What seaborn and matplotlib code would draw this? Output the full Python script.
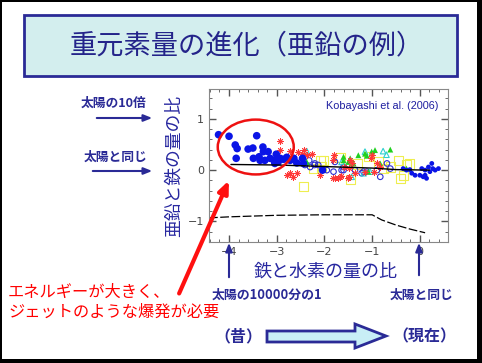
import matplotlib
matplotlib.use("Agg")
import matplotlib.pyplot as plt
from matplotlib.patches import Rectangle, Ellipse, Polygon
from matplotlib.ticker import MultipleLocator
import seaborn as sns

# --- data ([Fe/H], [Zn/Fe]) ---
big_blue_x = [-4.22, -4.00, -3.87, -3.83, -3.85, -3.60, -3.50, -3.42, -3.49, -3.37, -3.29, -3.28,
              -3.35, -3.25, -3.18, -3.14, -3.06, -3.01, -2.97, -2.93, -2.86, -2.79, -2.72, -2.64,
              -2.58, -2.46, -2.44, -3.04, -2.04]
big_blue_y = [0.69, 0.66, 0.49, 0.42, 0.23, 0.41, 0.43, 0.67, 0.23, 0.26, 0.45, 0.36,
              0.19, 0.19, 0.36, 0.23, 0.19, 0.31, 0.16, 0.23, 0.21, 0.25, 0.19, 0.23,
              0.14, 0.23, 0.13, 0.13, 0.00]

small_blue_x = [0.04, 0.11, 0.18, 0.25, 0.27, 0.32, 0.39, 0.11, 0.07, 0.14, 0.00, -0.10,
                -0.17, -0.21, -0.28, -0.35, 0.21]
small_blue_y = [0.03, 0.00, 0.06, 0.13, 0.03, 0.00, 0.03, -0.10, -0.13, -0.16, -0.10, -0.10,
                -0.06, 0.01, 0.00, 0.03, -0.03]

red_x = [-2.93, -2.93, -2.72, -2.79, -2.72, -2.65, -2.58, -2.55, -2.48, -2.43, -2.37, -2.27,
         -2.09, -1.83, -1.72, -1.66, -1.83, -1.60, -1.48, -1.48, -1.43, -1.03, -0.90, -1.36,
         -1.81, -1.78, -1.67, -1.50, -1.46, -1.01, -0.97, -1.15, -0.83]
red_y = [0.57, 0.39, 0.37, -0.10, -0.06, -0.13, -0.06, 0.36, 0.31, 0.39, 0.29, 0.31,
         -0.10, -0.16, -0.16, -0.12, 0.19, 0.06, 0.05, -0.13, 0.13, 0.23, 0.13, -0.06,
         0.29, -0.16, -0.13, -0.16, 0.19, 0.29, -0.03, -0.03, 0.06]

open_blue_x = [-2.41, -2.30, -2.20, -2.13, -1.95, -1.81, -1.78, -1.64, -1.60, -1.36, -1.22,
               -1.11, -0.90, -0.83, -0.69, -0.62, -2.32, -2.21, -1.18, -1.60]
open_blue_y = [0.10, 0.06, 0.13, 0.10, 0.00, -0.03, 0.16, 0.00, 0.06, 0.00, -0.06,
               -0.03, 0.00, -0.13, 0.13, 0.03, 0.19, 0.10, -0.03, 0.00]

cyan_x = [-2.37, -1.64, -1.15, -0.77, -0.70, -1.18, -1.43, -1.04]
cyan_y = [0.37, 0.16, 0.36, 0.37, 0.30, -0.06, -0.13, -0.03]

green_x = [-1.60, -1.29, -1.15, -1.01, -0.94, -1.39, -1.50, -1.08, -0.83, -1.60, -1.46,
           -0.62, -1.11, -0.28, -2.37]
green_y = [0.26, 0.29, 0.32, 0.36, 0.39, 0.13, 0.16, -0.03, 0.13, 0.19, 0.23,
           0.40, 0.28, 0.03, 0.16]

yellow_x = [-2.44, -2.23, -2.02, -1.67, -1.46, -0.87, -0.77, -0.45, -0.21, -0.41, -0.35,
            -2.09, -2.06, -0.28, -1.08, -0.62, -1.30]
yellow_y = [-0.32, 0.03, 0.19, 0.25, -0.19, 0.16, 0.03, 0.18, 0.12, -0.16, -0.10,
            0.19, 0.06, 0.10, 0.26, 0.06, 0.12]

model_x = [-3.96, -3.0, -2.0, -1.0, -0.5, 0.2]
model_y = [0.11, 0.10, 0.07, 0.04, 0.01, 0.00]

dash_x = [-4.42, -4.0, -3.0, -2.0, -1.0, -0.8, -0.5, -0.2, 0.11]
dash_y = [-0.93, -0.91, -0.88, -0.87, -0.87, -0.97, -1.07, -1.15, -1.22]

xticks = [-4, -3, -2, -1, 0]
yticks = [-1, 0, 1]

NAVY = "#2a2a96"
H = 363

sns.set_style("ticks")
plt.rcParams["font.family"] = ["Noto Sans CJK JP", "DejaVu Sans"]

fig = plt.figure(figsize=(4.82, 3.63), dpi=100)
fig.patch.set_facecolor("black")


def fy(y):
    return H - y


# white slide area and title box
fig.patches.append(Rectangle((2, fy(359)), 475, 357, transform=None,
                             facecolor="white", edgecolor="none", zorder=-2))
fig.patches.append(Rectangle((24, fy(76)), 433, 61, transform=None,
                             facecolor="#d3eeee", edgecolor=NAVY, lw=2, zorder=-1))
fig.text(247 / 482, 1 - 46 / H, "重元素量の進化（亜鉛の例）", ha="center", va="center",
         fontsize=19.6, color="#24248a")

ax = fig.add_axes([209 / 482, 1 - 242 / H, 239 / 482, 153 / H])
ax.set_zorder(3)
ax.set_facecolor("white")

sns.lineplot(x=model_x, y=model_y, ax=ax, color="black", lw=1.0, sort=False)
sns.lineplot(x=dash_x, y=dash_y, ax=ax, color="black", lw=0.9, sort=False,
             linestyle=(0, (7, 2)))

sns.scatterplot(x=yellow_x, y=yellow_y, ax=ax, marker="s", s=44, facecolor="none",
                edgecolor="#eeee50", linewidth=0.8)
sns.scatterplot(x=open_blue_x, y=open_blue_y, ax=ax, marker="o", s=16, facecolor="none",
                edgecolor="#3030d0", linewidth=0.8)
sns.scatterplot(x=cyan_x, y=cyan_y, ax=ax, marker="^", s=16, facecolor="none",
                edgecolor="#30d0d0", linewidth=0.8)
sns.scatterplot(x=green_x, y=green_y, ax=ax, marker="^", s=18, color="#20d020",
                edgecolor="none")
sns.scatterplot(x=red_x, y=red_y, ax=ax, marker=(8, 2, 0), s=18, color="#ff3838",
                linewidth=0.6)
sns.scatterplot(x=big_blue_x, y=big_blue_y, ax=ax, marker="o", s=30, color="#0a14e6",
                edgecolor="none")
sns.scatterplot(x=small_blue_x, y=small_blue_y, ax=ax, marker="o", s=12, color="#0a14e6",
                edgecolor="none")

ax.add_patch(Ellipse((-3.44, 0.45), 76 / 47.7, 55 / 51.5, facecolor="none",
                     edgecolor="#ee1111", lw=1.8, zorder=5))

ax.set_xlim(-4.42, 0.59)
ax.set_ylim(-1.40, 1.58)
ax.set_xticks(xticks)
ax.set_yticks(yticks)
ax.set_xticklabels(["\u2212" + str(-t) if t < 0 else str(t) for t in xticks])
ax.set_yticklabels(["\u2212" + str(-t) if t < 0 else str(t) for t in yticks])
ax.xaxis.set_minor_locator(MultipleLocator(0.2))
ax.yaxis.set_minor_locator(MultipleLocator(0.2))
ax.tick_params(which="both", direction="in", top=True, right=True, colors="#555555",
               labelsize=8, labelcolor="#444444")
ax.tick_params(which="major", length=5, width=1.0)
ax.tick_params(which="minor", length=2.5, width=0.6)
for lab in ax.get_xticklabels() + ax.get_yticklabels():
    lab.set_family("DejaVu Sans")
for sp in ax.spines.values():
    sp.set_color("#888888")
    sp.set_linewidth(0.8)
ax.set_xlabel("")
ax.set_ylabel("")
ax.text(0.96, 0.89, "Kobayashi et al. (2006)", transform=ax.transAxes, ha="right",
        va="center", fontsize=7.8, color="#1e1ea0", family="Liberation Sans")

# axis titles
fig.text(174 / 482, 1 - 166 / H, "亜鉛と鉄の量の比", rotation=90, ha="center", va="center",
         fontsize=12.8, color="#2828a0")
fig.text(326 / 482, 1 - 272 / H, "鉄と水素の量の比", ha="center", va="center",
         fontsize=13, color="#2828a0")

# side labels with arrows
fig.text(114 / 482, 1 - 103 / H, "太陽の10倍", ha="center", va="center", fontsize=9.2,
         fontweight="bold", color=NAVY)
fig.text(116 / 482, 1 - 157 / H, "太陽と同じ", ha="center", va="center", fontsize=9.2,
         fontweight="bold", color=NAVY)
fig.text(267 / 482, 1 - 295 / H, "太陽の10000分の1", ha="center", va="center",
         fontsize=9.3, fontweight="bold", color=NAVY)
fig.text(422 / 482, 1 - 295 / H, "太陽と同じ", ha="center", va="center", fontsize=9.2,
         fontweight="bold", color=NAVY)

arrow_kw = dict(arrowstyle="-|>,head_length=0.5,head_width=0.2", color=NAVY, lw=1.5)
for (x0, y0, x1, y1) in [(94, 118, 155, 118), (90, 171, 155, 171),
                         (229, 280, 229, 240), (419, 278, 419, 240)]:
    ax.annotate("", xy=(x1, fy(y1)), xytext=(x0, fy(y0)), xycoords="figure pixels",
                textcoords="figure pixels", arrowprops=arrow_kw, annotation_clip=False)

# red note and arrow
ax.annotate("", xy=(230, fy(178)), xytext=(178, fy(296)), xycoords="figure pixels",
            textcoords="figure pixels", annotation_clip=False,
            arrowprops=dict(arrowstyle="-|>,head_length=0.7,head_width=0.3",
                            color="#ff1010", lw=3))
fig.text(8 / 482, 1 - 292 / H, "エネルギーが大きく、", ha="left", va="center",
         fontsize=11.7, color="#ff0000")
fig.text(8 / 482, 1 - 312 / H, "ジェットのような爆発が必要", ha="left", va="center",
         fontsize=11.7, color="#ff0000")

# time arrow
fig.text(238 / 482, 1 - 336 / H, "（昔）", ha="center", va="center", fontsize=11.5,
         fontweight="bold", color=NAVY)
fig.text(424 / 482, 1 - 336 / H, "（現在）", ha="center", va="center", fontsize=11.5,
         fontweight="bold", color=NAVY)
big_arrow = [(267, 331), (355, 331), (355, 324), (386, 336), (355, 348), (355, 342), (267, 342)]
fig.patches.append(Polygon([(x, fy(y)) for x, y in big_arrow], closed=True, transform=None,
                           facecolor="#c8eef6", edgecolor=NAVY, lw=2, zorder=2))

fig.savefig("out.png", dpi=100, facecolor=fig.get_facecolor())
